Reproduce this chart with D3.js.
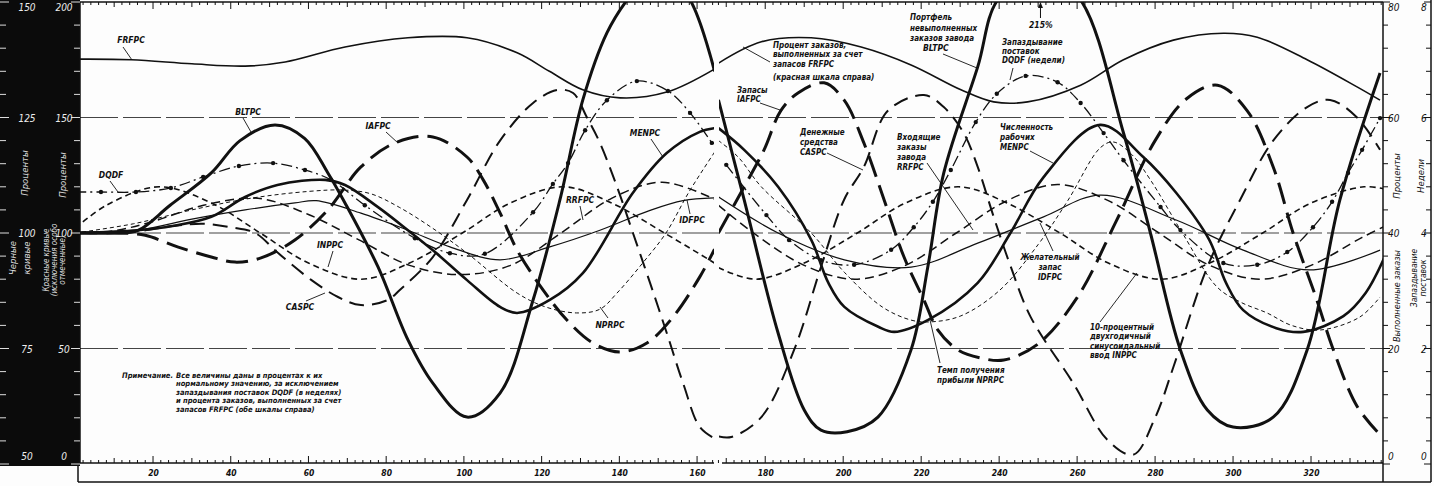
<!DOCTYPE html>
<html><head><meta charset="utf-8">
<script src="https://cdn.jsdelivr.net/npm/d3@7"></script>
<style>
body{margin:0;background:#fff;}
svg{display:block;}
text{font-family:"DejaVu Sans Condensed","DejaVu Sans",sans-serif;font-style:italic;font-weight:bold;fill:#111;}
</style></head><body>
<svg id="c" width="1434" height="486"></svg>
<script>
// ---------------- DATA ----------------
const X_LABELS = [20,40,60,80,100,120,140,160,180,200,220,240,260,280,300,320];
const BLACK_TICKS = [150,125,100,75,50];
const RED_TICKS = [200,150,100,50,0];
const PCT_TICKS = [80,60,40,20,0];
const WEEK_TICKS = [8,6,4,2,0];
const GRID_LEVELS = [125,100,75];

// [week, value]
const FRFPC = [[0.7,70.1],[14.4,70],[30,69.3],[43.7,68.9],[54,69.6],[69.4,72.2],[85.6,73.8],[100.8,73.8],[113.7,71.2],[122,68],[130.6,64.8],[140.2,63.4],[152.2,64.4],[164.5,68.4],
  [168,69.4],[179,73.1],[191.8,73.8],[204.6,72.2],[217.4,69.1],[230.2,64.8],[238.6,62.7],[247.3,62.7],[260.9,65.6],[271.9,70],[284.7,73.4],[297.5,74.6],[306.2,73.9],[319,70],[331.8,65.3],[337.7,63]];
const BLTPC = [[0,100],[10,100],[16,101],[24.4,112],[35,126],[42.4,140],[51.4,146.8],[59,141],[65,126],[69.4,113],[77.9,85.3],[85.6,53.7],[92,35],[100.8,20.3],[109.3,30.7],[117.8,71],[124.7,114.3],[130.6,157.6],[136.8,186.6],[142,200.9],[150,216],[158.2,200.9],[164.5,170],
  [168,157.6],[174.6,114.3],[183.3,56.7],[190,23.4],[194.3,14.7],[201,14],[208.9,20.3],[217.4,49.4],[221.7,85.3],[225.8,126],[234.5,171.9],[239.6,200.9],[250.6,215],[260.9,200.9],[271.9,143.3],[278.8,100],[286.5,49.4],[293.4,23.4],[300,16],[310.3,20.3],[319,49.4],[327.4,114.3],[337.7,169.3]];
const MENPC = [[0,100],[16,100.6],[25,101.5],[35,103.5],[43.7,107.8],[52,110.4],[64.3,111.5],[69.4,110.4],[77.9,105.6],[85.6,100.6],[92.8,95.7],[100.8,89.8],[109.3,84],[113.7,82.7],[122.1,85.5],[130.6,91.3],[143.5,108.7],[152.2,117.3],[160.7,121.9],[164.5,122.7],
  [168,122.7],[174.6,118],[183.3,110],[191.8,98.5],[196.2,89.2],[200.3,84],[209,79.7],[213.1,78.6],[221.8,81.2],[234.5,89.2],[242.9,100],[251.4,112.1],[265.9,123.4],[276.9,116.5],[285.4,108.7],[293.9,98.5],[298.2,89.2],[302.6,83.3],[311.1,79.4],[318,78.6],[328.3,82],[334,87],[339,95]];
const IDFPC = [[0,100],[16,100.6],[30,103],[43.7,105],[56.5,106.5],[62,107],[73.5,104.3],[85.6,100.6],[96.4,97],[109.3,94.2],[122.1,97],[135,100.6],[147.9,104.9],[156.4,107],[164.5,107.6],
  [168,107.8],[183.3,100],[200.3,94.2],[217.4,92.6],[234.5,97.8],[251.4,103.5],[265.9,108.2],[285.4,102.8],[302.6,96.3],[319.6,92],[337.7,96.3]];
const IAFPC = [[0,100],[12,100],[18,99],[26.5,93.9],[35,89.6],[41.1,87.4],[47.8,89.2],[56.5,97],[65,110],[73.5,128.6],[82.3,139],[92,141.6],[100.8,132.9],[105,122.9],[109.3,108.7],[113.7,92.6],[120.4,75.3],[126.5,62.3],[133.2,52.4],[140.2,48.5],[147.1,52.4],[153.8,63.6],[160.7,81],[164.5,93],
  [168,100],[174.6,120],[179.7,136],[184,153],[188.4,160.6],[195.1,165],[200.2,157.6],[205.3,139],[210.5,114.3],[215.6,89.6],[220.7,71],[224.3,58],[229.4,49.4],[235,46],[241.2,45],[250,52],[260,72],[270,105],[280,140],[288,158],[296,164],[303.6,153],[310.3,128.6],[315.4,100],[321.5,71],[325.6,50],[331.8,25],[337,14]];
const CASPC = [[0,100],[15,100.5],[25,103],[33,104],[40,102.5],[46.3,100],[52.2,91.3],[60.7,79.7],[67.6,72.3],[73.5,68.8],[80.4,71],[83.5,75.3],[92,89.6],[100.8,114.3],[109.3,140],[117.8,156.3],[124,161.9],[128.1,160.6],[131.6,150.2],[135,139],[139.4,120],[143.5,100],[147.9,78.4],[152.2,56.7],[156.4,35],[160.7,16],[164.5,11],
  [168,12],[171.3,11.7],[179,20.3],[187.4,49.4],[194.3,85.3],[200.2,114.3],[205.3,128.6],[211.5,153],[220.7,159.7],[225.8,154.5],[230.9,143.3],[234.5,128.6],[238.6,107],[243,85.3],[248.1,63.6],[259,35],[267.8,10.4],[274.4,4],[280,20],[284.7,42],[293.4,85.3],[301.8,114.3],[310.3,140],[319,154.5],[324.9,157.6],[331.8,150],[337.7,136]];
const DQDF = [[0,4.71],[6.6,4.71],[15.6,4.71],[24.6,4.78],[32.9,4.97],[42.1,5.16],[50.9,5.21],[59.1,5.09],[65.8,4.92],[74.5,4.48],[87.4,3.91],[96.4,3.65],[105.4,3.64],[117.8,4.36],[122.9,4.85],[126.8,5.21],[131.2,5.78],[136.8,6.3],[144.5,6.63],[152.5,6.46],[158.2,6.08],[163.8,5.56],
  [170,5.18],[180.3,4.31],[186.1,3.88],[194.3,3.53],[202.8,3.45],[212.3,3.71],[218.1,4.1],[223,4.54],[227.6,5.09],[234,5.92],[239.4,6.41],[246.8,6.72],[255,6.61],[260.9,6.25],[266.8,5.73],[271.9,5.26],[281.4,4.45],[286.5,4.05],[297.5,3.48],[306.2,3.45],[313.9,3.67],[320.5,4.1],[325.4,4.54],[329.5,5.04],[333.1,5.44],[337.7,5.99]];
const INPPC = [[0,101],[8,106],[21.6,110],[35,106.5],[47.6,100],[60,93.5],[73.6,90],[86,93.5],[99.6,100],[112,106.5],[125.6,110],[138,106.5],[151.6,100],[164.5,93.5],
  [168,92.5],[177.6,90],[190,93.5],[203.6,100],[216,106.5],[229.6,110],[242,106.5],[255.6,100],[268,93.5],[281.6,90],[294,93.5],[307.6,100],[320,106.5],[333.6,110],[339,109.5]];
const RRFPC = [[0,100],[10,100.5],[20,102.5],[33,106],[47,107.5],[60,104],[73,98.5],[86,93],[99,91],[112,93],[125,100],[138,107.5],[151,111],[164.5,107.3],
  [168,106],[177,100],[190,93],[203,90],[216,93],[229,100],[242,107],[255,110.5],[268,107],[281,100],[294,93],[307,90],[320,93],[333,99],[339,101.5]];
const NPRPC = [[0,100],[15,104],[30,110],[45,115],[60,118],[69,118.6],[76,117],[83.5,111],[92,102],[100.8,91.3],[113.7,74],[121,68],[129,65.4],[135,67],[139.4,74],[146,87],[152,100],[158,118],[164.5,135],
  [168,140],[173,133],[179,120],[191.8,100],[200.3,83],[210,68],[217.4,62.3],[222,61.5],[230,64],[240,75],[250,95],[257.6,114],[266,137],[269.3,139.4],[274,134],[278.8,123],[287,100],[295.9,76.6],[302,70],[308.7,65.4],[315,60],[322.3,58],[332.5,63.6],[337.7,72.3]];

// ---------------- LAYOUT ----------------
const svg = d3.select("#c");
const PL=80, PR=1383, PT=2, PB=463, SEAM_L=714, SEAM_R=719;
const x = d3.scaleLinear().domain([0,165,167.5,340]).range([75.3,716.5,716.5,1389]);
const yBlack = d3.scaleLinear().domain([50,150]).range([464,2]);
const yRed = d3.scaleLinear().domain([0,200]).range([464,2]);
const yPct = d3.scaleLinear().domain([0,80]).range([464,2]);
const yWeeks = d3.scaleLinear().domain([0,8]).range([464,2]);

const defs = svg.append("defs");
defs.append("clipPath").attr("id","clipL").append("rect").attr("x",PL).attr("y",PT).attr("width",SEAM_L-PL).attr("height",PB-PT);
defs.append("clipPath").attr("id","clipR").append("rect").attr("x",SEAM_R).attr("y",PT).attr("width",PR-SEAM_R).attr("height",PB-PT);

svg.append("rect").attr("width",1434).attr("height",486).attr("fill","#fdfdfd");
svg.append("rect").attr("x",0).attr("y",0).attr("width",PL).attr("height",466).attr("fill","#0b0b0b");

GRID_LEVELS.forEach(v=>{
  svg.append("line").attr("x1",PL).attr("x2",PR).attr("y1",yBlack(v)).attr("y2",yBlack(v))
    .attr("stroke","#444").attr("stroke-width",1.1).attr("stroke-dasharray","38,5");
});

const frame = svg.append("g").attr("stroke","#111").attr("fill","none");
frame.append("line").attr("x1",PL).attr("x2",PR).attr("y1",PT).attr("y2",PT).attr("stroke-width",1.5);
frame.append("line").attr("x1",PL).attr("x2",PL).attr("y1",PT).attr("y2",PB).attr("stroke-width",1.5);
frame.append("line").attr("x1",PR).attr("x2",PR).attr("y1",PT).attr("y2",482).attr("stroke-width",1.5);
frame.append("line").attr("x1",PL-2).attr("x2",SEAM_L).attr("y1",PB).attr("y2",PB).attr("stroke-width",1.5);
frame.append("line").attr("x1",SEAM_R+3).attr("x2",PR).attr("y1",PB).attr("y2",PB).attr("stroke-width",1.5);
frame.append("line").attr("x1",1431).attr("x2",1431).attr("y1",0).attr("y2",482).attr("stroke-width",1.5);
frame.append("line").attr("x1",78).attr("x2",1431).attr("y1",482).attr("y2",482).attr("stroke-width",1.5);
frame.append("line").attr("x1",78).attr("x2",78).attr("y1",PB).attr("y2",482).attr("stroke-width",1.5);

const tickG = svg.append("g").attr("stroke","#111").attr("stroke-width",1);
const tickVals = d3.range(2,165,2).concat(d3.range(168,339,2));
tickVals.forEach(t=>{
  const L = t%20===0 ? 7 : (t%10===0 ? 5 : 3);
  const px = x(t);
  tickG.append("line").attr("x1",px).attr("x2",px).attr("y1",PB).attr("y2",PB-L);
  tickG.append("line").attr("x1",px).attr("x2",px).attr("y1",PT).attr("y2",PT+L);
});

const xAxis = d3.axisBottom(x).tickValues(X_LABELS).tickSize(0).tickPadding(7);
const xg = svg.append("g").attr("transform",`translate(0,${PB})`).call(xAxis);
xg.select(".domain").remove();
xg.selectAll("text").attr("font-size",8.5).attr("fill","#111").style("font-family","DejaVu Sans Condensed").style("font-style","italic").style("font-weight","bold");

d3.range(50,151,5).forEach(v=>{
  const py = yBlack(v);
  const big = v%25===0;
  svg.append("line").attr("x1",0).attr("x2",big?9:6).attr("y1",py).attr("y2",py).attr("stroke","#ddd").attr("stroke-width",1);
  svg.append("line").attr("x1",PL).attr("x2",PL-(big?9:6)).attr("y1",py).attr("y2",py).attr("stroke","#ddd").attr("stroke-width",1);
  svg.append("line").attr("x1",PR).attr("x2",PR+(big?7:5)).attr("y1",py).attr("y2",py).attr("stroke","#111").attr("stroke-width",1);
  svg.append("line").attr("x1",1431).attr("x2",1431-(big?7:5)).attr("y1",py).attr("y2",py).attr("stroke","#111").attr("stroke-width",1);
});

function yLabel(v, scale, ax, fill, anchor){
  let py = scale(v);
  if (py < 10) py = 11; else if (py > 455) py = 460; else py = py + 4;
  svg.append("text").attr("x",ax).attr("y",py).attr("text-anchor",anchor||"middle")
    .attr("font-size",10).style("fill",fill).style("font-weight","normal").text(v);
}
BLACK_TICKS.forEach(v=>yLabel(v,yBlack,27,"#eee"));
RED_TICKS.forEach(v=>yLabel(v,yRed,64,"#eee"));
PCT_TICKS.forEach(v=>yLabel(v,yPct,1388,"#111","start"));
WEEK_TICKS.forEach(v=>yLabel(v,yWeeks,1421,"#111","start"));

function vtext(cx, cy, str, fill, size){
  svg.append("text").attr("transform",`translate(${cx},${cy}) rotate(-90)`).attr("text-anchor","middle")
    .attr("font-size",size||9).style("fill",fill).style("font-weight","normal").text(str);
}
vtext(28,173,"Проценты","#ddd",9.5);
vtext(66,175,"Проценты","#ddd",9.5);
vtext(16,258,"Черные","#ddd",9.5);
vtext(30,258,"кривые","#ddd",9.5);
vtext(49,260,"Красные кривые","#ddd",8);
vtext(57,260,"(исключения особо","#ddd",8);
vtext(65,260,"отмеченные)","#ddd",8);
vtext(1400,176,"Проценты","#111",9.5);
vtext(1424,176,"Недели","#111",9.5);
vtext(1400,296,"Выполненные заказы","#111",9);
vtext(1417,278,"Запаздывание","#111",8.5);
vtext(1426,278,"поставок","#111",8.5);

// ---------------- SERIES ----------------
const series = [
  {d:FRFPC, y:yPct,   w:1.6, dash:null},
  {d:IDFPC, y:yBlack, w:1.2, dash:null},
  {d:INPPC, y:yBlack, w:1.6, dash:"6,4"},
  {d:RRFPC, y:yBlack, w:1.5, dash:"9,5"},
  {d:NPRPC, y:yRed,   w:1.0, dash:"4,3"},
  {d:DQDF,  y:yWeeks, w:1.3, dash:"11,4,2,4", dots:true},
  {d:CASPC, y:yRed,   w:2.0, dash:"15,8"},
  {d:IAFPC, y:yRed,   w:3.0, dash:"22,9"},
  {d:MENPC, y:yBlack, w:2.6, dash:null},
  {d:BLTPC, y:yRed,   w:3.0, dash:null},
];
const gL = svg.append("g").attr("clip-path","url(#clipL)");
const gR = svg.append("g").attr("clip-path","url(#clipR)");
series.forEach(s=>{
  const line = d3.line().x(p=>x(p[0])).y(p=>s.y(p[1])).curve(d3.curveCatmullRom.alpha(0.5));
  const parts = [[s.d.filter(p=>p[0]<=165.5), gL],[s.d.filter(p=>p[0]>=167), gR]];
  parts.forEach(([pts,g])=>{
    g.append("path").attr("d",line(pts)).attr("fill","none").attr("stroke","#111")
      .attr("stroke-width",s.w).attr("stroke-dasharray",s.dash).attr("stroke-linecap","butt");
    if (s.dots) {
      g.selectAll(null).data(pts.filter(p=>p[0]>3)).enter().append("circle")
        .attr("cx",p=>x(p[0])).attr("cy",p=>s.y(p[1])).attr("r",2.2).attr("fill","#111");
    }
  });
});

// ---------------- ANNOTATIONS ----------------
const ann = svg.append("g");
function label(lines, x0, y0, anchor, size, lh){
  const t = ann.append("text").attr("x",x0).attr("y",y0).attr("text-anchor",anchor||"start").attr("font-size",size||8);
  lines.forEach((l,i)=>t.append("tspan").attr("x",x0).attr("dy",i===0?0:(lh||10)).text(l));
}
function leader(x1,y1,x2,y2){
  ann.append("line").attr("x1",x1).attr("y1",y1).attr("x2",x2).attr("y2",y2).attr("stroke","#111").attr("stroke-width",0.9);
}
label(["FRFPC"],131,43,"middle",8.5); leader(123,47,132,60);
label(["BLTPC"],248,115,"middle",8.5); leader(243,118,251,132);
label(["DQDF"],111,178,"middle",8.5); leader(110,181,118,192);
label(["IAFPC"],378,129,"middle",8.5); leader(386,132,398,143);
label(["INPPC"],330,248,"middle",8.5); leader(333,251,328,267);
label(["CASPC"],300,310,"middle",8.5); leader(306,301,325,293);
label(["RRFPC"],580,203,"middle",8.5); leader(580,206,583,220);
label(["MENPC"],645,136,"middle",8.5); leader(651,139,663,157);
label(["IDFPC"],692,223,"middle",8.5); leader(690,214,687,200);
label(["NPRPC"],610,328,"middle",8.5); leader(608,318,600,307);

label(["Процент заказов,","выполненных за счет","запасов FRFPC"],773,48,"start",8,9.3); 
label(["(красная шкала справа)"],773,80,"start",8); leader(770,62,743,47);
label(["Запасы","IAFPC"],737,93,"start",8,9); leader(760,103,780,110);
label(["Денежные","средства","CASPC"],800,135,"start",8,10); leader(827,153,863,170);
label(["Входящие","заказы","завода","RRFPC"],897,140,"start",8,10); leader(927,163,973,230);
label(["Портфель","невыполненных","заказов завода"],910,20,"start",8,10.5);
label(["BLTPC"],923,51,"start",8.5); leader(943,54,977,68);
label(["215%"],1029,28,"start",8.5);
ann.append("line").attr("x1",x(250.6)).attr("x2",x(250.6)).attr("y1",18).attr("y2",4).attr("stroke","#111").attr("stroke-width",1);
ann.append("path").attr("d",`M${x(250.6)-2.5},8 L${x(250.6)},2 L${x(250.6)+2.5},8 Z`).attr("fill","#111");
label(["Запаздывание","поставок","DQDF (недели)"],1002,45,"start",8,9);
leader(1013,68,1010,80);
label(["Численность","рабочих","MENPC"],1000,130,"start",8,10); leader(1030,151,1053,163);
label(["Темп получения","прибыли NPRPC"],937,373,"start",8,10); leader(940,363,930,320);
label(["Желательный","запас","IDFPC"],1050,260,"middle",8,10); leader(1053,251,1040,223);
label(["10-процентный","двухгодичный","синусоидальный","ввод INPPC"],1090,330,"start",8,9.3); leader(1100,322,1137,273);

label(["Примечание."],122,378,"start",7.5);
label(["Все величины даны в процентах к их","нормальному значению, за исключением","запаздывания поставок DQDF (в неделях)","и процента заказов, выполненных за счет","запасов FRFPC (обе шкалы справа)"],176,378,"start",7.5,8.4);
</script>
</body></html>
